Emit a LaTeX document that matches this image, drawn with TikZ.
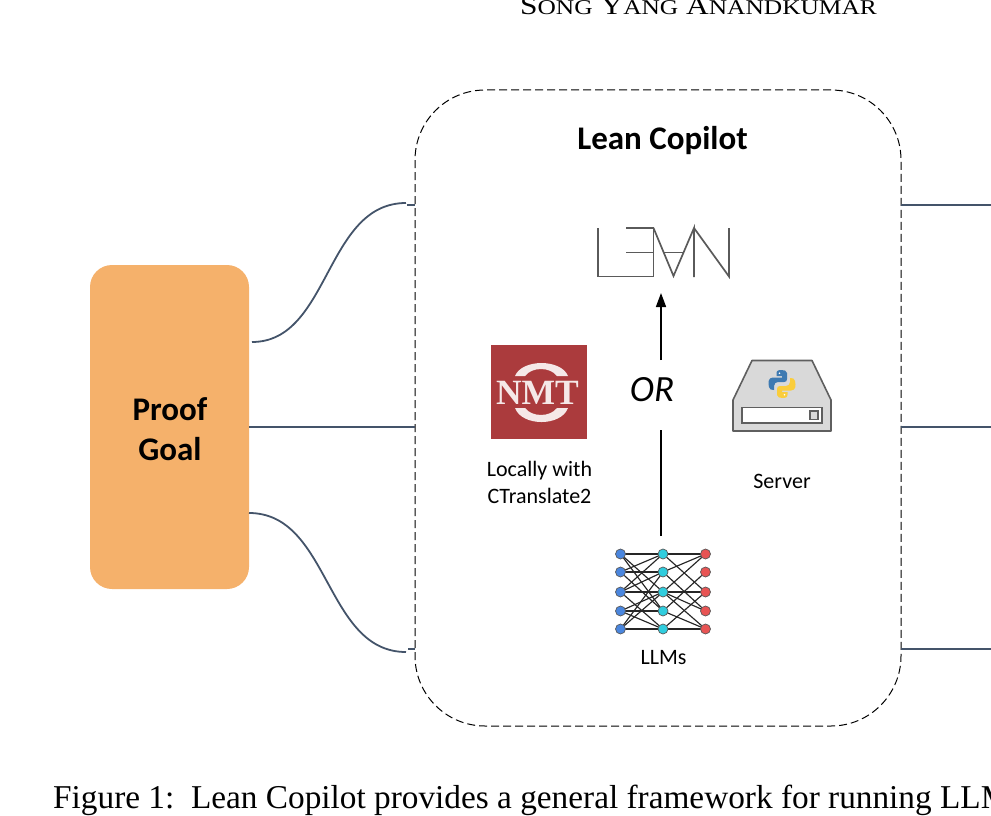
\documentclass[tikz,border=0pt]{standalone}
\usepackage{fontspec}
\setmainfont{Liberation Serif}
\newfontfamily\calfnt{Carlito}
\usetikzlibrary{arrows.meta}
\definecolor{orng}{HTML}{F5B16B}
\definecolor{slateln}{HTML}{44546A}
\definecolor{nmtred}{HTML}{AB3B3D}
\definecolor{srvgray}{HTML}{D9D9D9}
\definecolor{srvln}{HTML}{5F5F5F}
\definecolor{leanln}{HTML}{5A5A5A}
\definecolor{pyblue}{HTML}{3E7AB2}
\definecolor{pyyel}{HTML}{FACD3C}
\definecolor{nblue}{HTML}{4A86DE}
\definecolor{ncyan}{HTML}{30CDDE}
\definecolor{nred}{HTML}{E85454}
\tikzset{
  x=1pt,y=-1pt,
  conn/.style={draw=slateln,line width=1.8pt},
  labeltxt/.style={font=\calfnt\fontsize{22}{27}\selectfont,align=center,inner sep=0pt},
  boldtxt/.style={font=\calfnt\bfseries\fontsize{33}{40}\selectfont,align=center,inner sep=0pt},
  nin/.style={circle,draw=black!65,line width=.7pt,fill=#1,minimum size=10pt,inner sep=0pt},
  netedge/.style={draw=black!85,line width=1.15pt},
  leanstroke/.style={draw=leanln,line width=1.7pt,line join=miter},
}
\begin{document}
\begin{tikzpicture}
\useasboundingbox (0,0) rectangle (991,816);
\clip (0,0) rectangle (991,816);
% header
\node[anchor=base,inner sep=0pt] (hdr) at (698.5,14.5) {\scalebox{1.21}[1]{\fontsize{26}{28}\selectfont S\fontsize{21}{23}\selectfont ONG\fontsize{26}{28}\selectfont\ Y\fontsize{21}{23}\selectfont ANG\fontsize{26}{28}\selectfont\ A\fontsize{21}{23}\selectfont NANDKUMAR}};
% boxes
\node[draw=none,fill=orng,rounded corners=22pt,minimum width=159pt,minimum height=324pt,inner sep=0pt] (goal) at (169.5,427) {};
\node[boldtxt] (goaltxt) at (170,429) {Proof\\Goal};
\node[draw=black,line width=1pt,dash pattern=on 8pt off 4pt,rounded corners=70pt,minimum width=486pt,minimum height=636pt,inner sep=0pt] (copilot) at (658,408) {};
\node[font=\calfnt\bfseries\fontsize{33}{36}\selectfont,inner sep=0pt] (title) at (662.5,141) {Lean Copilot};
% left connectors
\coordinate (ga) at (252,342);
\coordinate (gb) at (249,427);
\coordinate (gc) at (249,513);
\coordinate (ca) at (406,203);
\coordinate (cat) at (415,205);
\coordinate (caf) at (407,205);
\coordinate (cb) at (415,427);
\coordinate (cc) at (406,652);
\coordinate (cct) at (415,649);
\coordinate (ccf) at (408,649);
\draw[conn] (ga) .. controls (330,342) and (325,203) .. (ca);
\draw[conn] (caf) -- (cat);
\draw[conn] (gb) -- (cb);
\draw[conn] (gc) .. controls (330,513) and (325,652) .. (cc);
\draw[conn] (ccf) -- (cct);
% right connectors
\coordinate (ra) at (901,205);
\coordinate (rb) at (901,427);
\coordinate (rc) at (901,649);
\coordinate (rae) at (991,205);
\coordinate (rbe) at (991,427);
\coordinate (rce) at (991,649);
\draw[conn] (ra) -- (rae);
\draw[conn] (rb) -- (rbe);
\draw[conn] (rc) -- (rce);
% LEAN logo
\draw[leanstroke] (598,228) -- (598,276.5) -- (653.5,276.5) -- (653.5,228) -- (626,228);
\draw[leanstroke] (626,252.5) -- (653.5,252.5);
\draw[leanstroke] (653.5,228) -- (673.5,276) -- (694,228) -- (694,277);
\draw[leanstroke] (664,252.5) -- (684,252.5);
\draw[leanstroke] (694,228) -- (729,276.5) -- (729,228);
% OR arrow
\coordinate (arra) at (661,536);
\coordinate (arrb) at (661,430);
\coordinate (arrc) at (661,360);
\coordinate (arrd) at (661,293);
\draw[line width=1.6pt] (arra) -- (arrb);
\draw[line width=1.6pt,-{Stealth[length=14pt,width=10pt,inset=0pt]}] (arrc) -- (arrd);
\node[font=\calfnt\itshape\fontsize{37}{40}\selectfont,inner sep=0pt] (ortxt) at (652,390) {OR};
% NMT
\fill[nmtred] (491,345) rectangle (587,439);
\fill[white!88!nmtred] (515,376) .. controls (522,358.7) and (561,358.7) .. (568,376) -- (557,376) .. controls (550,366.7) and (532,366.7) .. (525,376) -- cycle;
\fill[white!88!nmtred] (515,408) .. controls (522,426.7) and (561,426.7) .. (568,408) -- (557,408) .. controls (550,417.3) and (532,417.3) .. (525,408) -- cycle;
\node[text=white!88!nmtred,inner sep=0pt,font=\bfseries\fontsize{35.5}{38}\selectfont] (nmt) at (537.5,393) {NMT};
\node[labeltxt] (local) at (539.5,482) {Locally with\\CTranslate2};
% server
\draw[srvln,fill=srvgray,line width=1.6pt,line join=round] (733,400) -- (752,360.5) -- (812,360.5) -- (831,400) -- (831,431) -- (733,431) -- cycle;
\draw[srvln,fill=white,line width=1.6pt] (742,407.5) rectangle (822,423);
\draw[srvln,fill=srvgray,line width=1.3pt] (810,411) rectangle (818,419.5);
\fill[pyblue] (781,370) .. controls (776,370) and (776.5,372) .. (776.5,376) -- (782,376) -- (782,377.5) -- (773,377.5) .. controls (768,377.5) and (768,383) .. (769,387) .. controls (769.5,389.5) and (771,390) .. (774,390) -- (774,386) .. controls (774,383.5) and (776,382) .. (778,382) -- (784,382) .. controls (786,382) and (787,381) .. (787,379) -- (787,373) .. controls (787,370.5) and (784,370) .. (781,370) -- cycle;
\fill[pyyel] (783,398) .. controls (788,398) and (787.5,396) .. (787.5,392) -- (782,392) -- (782,390.5) -- (791,390.5) .. controls (796,390.5) and (796,385) .. (795,381) .. controls (794.5,378.5) and (793,378) .. (790,378) -- (790,382) .. controls (790,384.5) and (788,386) .. (786,386) -- (780,386) .. controls (778,386) and (777,387) .. (777,389) -- (777,395) .. controls (777,397.5) and (780,398) .. (783,398) -- cycle;
\fill[white] (779.5,373.2) circle (.9pt);
\fill[white] (784.5,394.8) circle (.9pt);
\node[labeltxt] (server) at (782,481) {Server};
% neural net
\foreach \n/\yy in {1/554,2/572,3/592,4/611,5/629}{
  \coordinate (i\n) at (620.5,\yy);
  \coordinate (h\n) at (663,\yy);
  \coordinate (o\n) at (705.5,\yy);
}
\foreach \a/\b in {i1/h1,i1/h3,i2/h1,i2/h2,i2/h4,i3/h1,i3/h3,i3/h2,i3/h5,i4/h3,i4/h4,i4/h5,i5/h2,i5/h3,i5/h5,i1/h4,
  h1/o1,h1/o3,h2/o1,h2/o4,h3/o1,h3/o3,h3/o4,h3/o5,h4/o2,h4/o5,h5/o3,h5/o5}{
  \draw[netedge] (\a) -- (\b);
}
\foreach \n in {1,...,5}{
  \node[nin=nblue] (ni\n) at (i\n) {};
  \node[nin=ncyan] (nh\n) at (h\n) {};
  \node[nin=nred] (no\n) at (o\n) {};
}
\node[labeltxt] (llms) at (663.5,658) {LLMs};
% caption
\node[anchor=base west,inner sep=0pt,font=\fontsize{33.3}{38}\selectfont] (cap) at (53,808) {Figure 1:\ \ Lean Copilot provides a general framework for running LLMs};
\end{tikzpicture}
\end{document}
